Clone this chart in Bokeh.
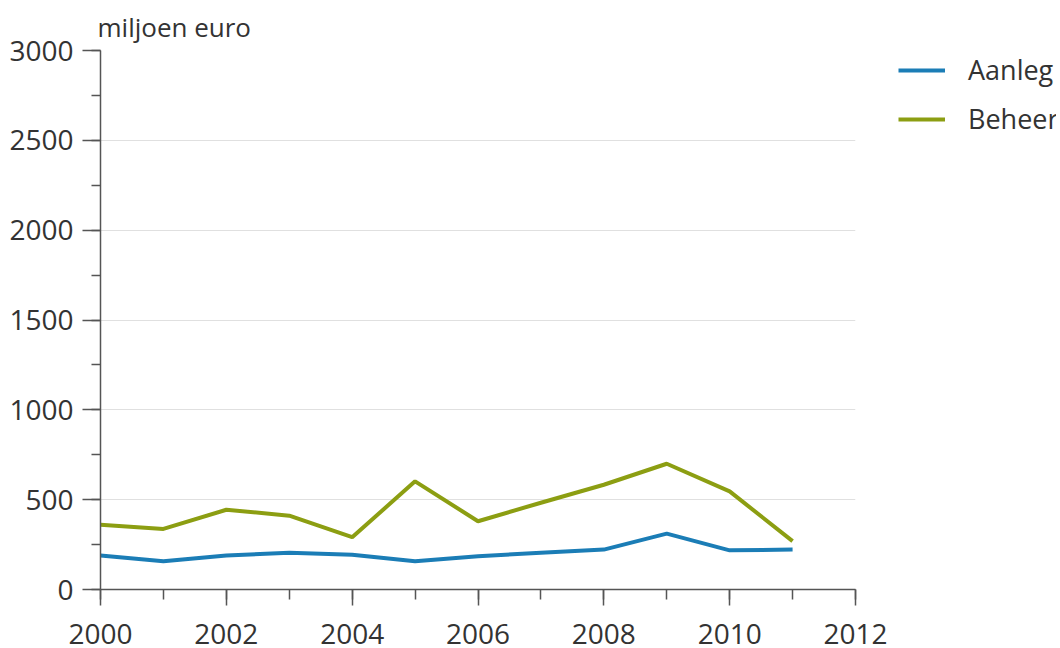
from bokeh.plotting import figure
from bokeh.layouts import row
from bokeh.models import SingleIntervalTicker, Legend, LegendItem, Range1d
from bokeh.embed import file_html
from bokeh.resources import INLINE

years = [2000, 2001, 2002, 2003, 2004, 2005, 2006, 2007, 2008, 2009, 2010, 2011]
aanleg = [189, 157, 189, 204, 194, 157, 185, 205, 222, 311, 218, 222]
beheer = [361, 337, 444, 411, 291, 602, 380, 483, 583, 700, 546, 269]
series_names = ["Aanleg", "Beheer"]
colors = ["#1b7db6", "#8c9e12"]

FONT = "Open Sans"
TXT = "#333333"

p = figure(width=890, height=646, output_backend="svg", toolbar_location=None,
           x_range=Range1d(2000, 2012), y_range=Range1d(0, 3000),
           min_border_left=100, min_border_right=35, min_border_top=50, min_border_bottom=56)
p.outline_line_color = None
p.background_fill_color = "white"

p.title.text = "miljoen euro"
p.title.align = "left"
p.title.offset = -3
p.title.standoff = 11
p.title.text_font = FONT
p.title.text_font_size = "26px"
p.title.text_font_style = "normal"
p.title.text_color = TXT

r1 = p.line(years, aanleg, line_color=colors[0], line_width=4)
r2 = p.line(years, beheer, line_color=colors[1], line_width=4)

p.xaxis.ticker = SingleIntervalTicker(interval=2, num_minor_ticks=2)
p.yaxis.ticker = SingleIntervalTicker(interval=500, num_minor_ticks=2)
for ax in (p.xaxis[0], p.yaxis[0]):
    ax.axis_line_color = "#555555"
    ax.axis_line_width = 1.5
    ax.major_tick_line_color = "#555555"
    ax.minor_tick_line_color = "#555555"
    ax.major_tick_line_width = 1.5
    ax.minor_tick_line_width = 1.5
    ax.major_tick_in = 0
    ax.minor_tick_in = 0
    ax.major_label_text_font = FONT
    ax.major_label_text_font_size = "28px"
    ax.major_label_text_color = TXT
p.xaxis.major_tick_out = 16
p.xaxis.minor_tick_out = 10
p.yaxis.major_tick_out = 18
p.yaxis.minor_tick_out = 9
p.xaxis.major_label_standoff = 18
p.yaxis.major_label_standoff = 9

p.xgrid.grid_line_color = None
p.ygrid.grid_line_color = "#e0e0e0"
p.ygrid.grid_line_width = 1

# legend panel (separate figure so the legend can sit outside the plot frame);
# its proxy lines use the same series but lie outside this panel's ranges
p2 = figure(width=166, height=646, output_backend="svg", toolbar_location=None,
            x_range=Range1d(0, 1), y_range=Range1d(0, 1), min_border=0)
p2.axis.visible = False
p2.grid.visible = False
p2.outline_line_color = None
d1 = p2.line(years, aanleg, line_color=colors[0], line_width=4)
d2 = p2.line(years, beheer, line_color=colors[1], line_width=4)
legend = Legend(items=[LegendItem(label=series_names[0], renderers=[d1]),
                       LegendItem(label=series_names[1], renderers=[d2])],
                location=(8, 452), orientation="vertical",
                glyph_width=47, glyph_height=24, label_standoff=23, spacing=12,
                padding=0, margin=0, border_line_color=None, background_fill_alpha=0,
                label_text_font=FONT, label_text_font_size="27px", label_text_color=TXT,
                label_height=24)
p2.add_layout(legend)

layout = row(p, p2)
open("out.html", "w").write(file_html(layout, INLINE))
